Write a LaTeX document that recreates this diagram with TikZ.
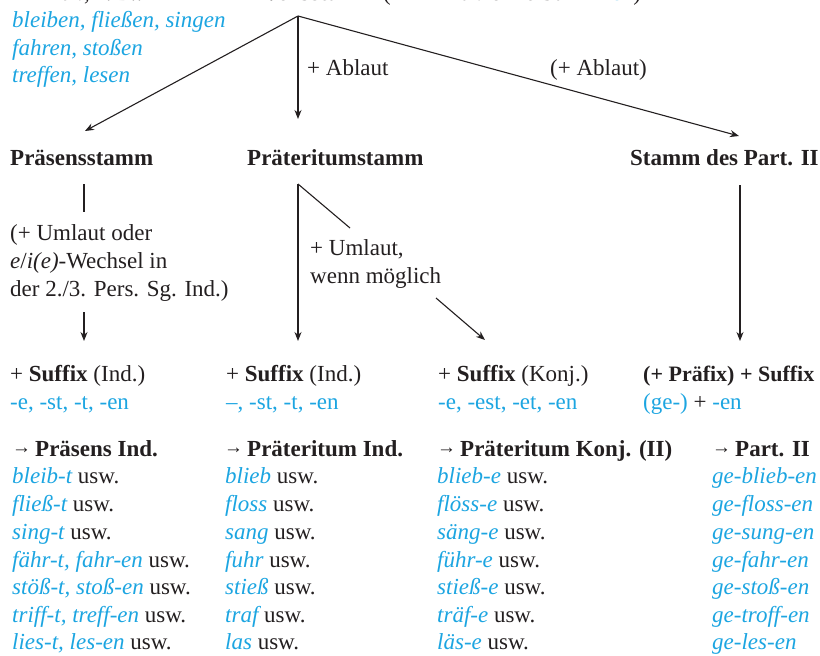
\documentclass[tikz,border=0pt]{standalone}
\usepackage{fontspec}
\setmainfont{Liberation Serif}
\usetikzlibrary{arrows.meta}
\definecolor{ink}{RGB}{35,31,32}
\definecolor{bl}{RGB}{28,165,225}
\newcommand{\bx}[1]{\textcolor{bl}{#1}}
\newcommand{\bi}[1]{\textcolor{bl}{\itshape #1}}
\newcommand{\hb}[1]{\textbf{#1}}
\newcommand{\rarr}{\raisebox{3pt}{\fontsize{19}{19}\selectfont →}\kern4pt}
\begin{document}
\begin{tikzpicture}[x=1pt,y=-1pt,
  every node/.style={inner sep=0pt, anchor=base west, text=ink,
    font=\fontsize{23}{28}\selectfont},
  conn/.style={draw=ink, line width=1.1pt},
  arr/.style={conn, -{Stealth[length=9pt,width=7pt]}}]
\useasboundingbox (0,0) rectangle (820,656);
% top (cut off) line
\node (t1) at (10,0) {Infinitiv, z.\,B.:};
\node (t2) at (263,0) {\hb{Verbstamm} (= Infinitiv ohne Suffix \bx{-en})};
\node (ex1) at (12,27) {\bi{bleiben, fließen, singen}};
\node (ex2) at (12,55) {\bi{fahren, stoßen}};
\node (ex3) at (12,82) {\bi{treffen, lesen}};
% apex and top arrows
\coordinate (apex) at (298,16);
\coordinate (eL) at (85,131);
\coordinate (eM) at (298,119);
\coordinate (eR) at (739,136);
\draw[arr] (apex) -- (eL);
\draw[arr] (apex) -- (eM);
\draw[arr] (apex) -- (eR);
\node (abl1) at (307,75) {+ Ablaut};
\node (abl2) at (550,75) {(+ Ablaut)};
% stems
\node (s1) at (10,165) {\hb{Präsensstamm}};
\node (s2) at (247,165) {\hb{Präteritumstamm}};
\node (s3) at (630,165) {\hb{Stamm des Part. II}};
% Präsens branch
\coordinate (a1) at (84,184);
\coordinate (a2) at (84,212);
\draw[conn] (a1) -- (a2);
\node (u1) at (10,240) {(+ Umlaut oder};
\node (u2) at (10,268) {\textit{e}/\textit{i(e)}-Wechsel in};
\node (u3) at (10,296) {der 2./3. Pers. Sg. Ind.)};
\coordinate (a3) at (84,312);
\coordinate (a4) at (84,341);
\draw[arr] (a3) -- (a4);
% Präteritum branch
\coordinate (b1) at (298,184);
\coordinate (b2) at (298,341);
\coordinate (b3) at (350,228);
\draw[arr] (b1) -- (b2);
\draw[conn] (b1) -- (b3);
\node (um1) at (310,255) {+ Umlaut,};
\node (um2) at (310,283) {wenn möglich};
\coordinate (b4) at (436,298);
\coordinate (b5) at (485,340);
\draw[arr] (b4) -- (b5);
% Part II branch
\coordinate (c1) at (740,185);
\coordinate (c2) at (740,341);
\draw[arr] (c1) -- (c2);
% suffix rows
\node (f1) at (10,381) {+ \hb{Suffix} (Ind.)};
\node (f2) at (226,381) {+ \hb{Suffix} (Ind.)};
\node (f3) at (438,381) {+ \hb{Suffix} (Konj.)};
\node[font=\fontsize{22}{28}\selectfont] (f4) at (643,381) {\hb{(+ Präfix) + Suffix}};
\node (g1) at (10,409) {\bx{-e, -st, -t, -en}};
\node (g2) at (226,409) {\bx{–, -st, -t, -en}};
\node (g3) at (438,409) {\bx{-e, -est, -et, -en}};
\node (g4) at (643,409) {\bx{(ge-)} + \bx{-en}};
% result headings
\node (h1) at (12,456) {\hb{\rarr Präsens Ind.}};
\node (h2) at (224,456) {\hb{\rarr Präteritum Ind.}};
\node (h3) at (437,456) {\hb{\rarr Präteritum Konj. (II)}};
\node (h4) at (712,456) {\hb{\rarr Part. II}};
% lists
\node (p1) at (12,483) {\bi{bleib-t} usw.};
\node (p2) at (12,511) {\bi{fließ-t} usw.};
\node (p3) at (12,539) {\bi{sing-t} usw.};
\node (p4) at (12,567) {\bi{fähr-t, fahr-en} usw.};
\node (p5) at (12,594) {\bi{stöß-t, stoß-en} usw.};
\node (p6) at (12,622) {\bi{triff-t, treff-en} usw.};
\node (p7) at (12,649) {\bi{lies-t, les-en} usw.};
\node (q1) at (225,483) {\bi{blieb} usw.};
\node (q2) at (225,511) {\bi{floss} usw.};
\node (q3) at (225,539) {\bi{sang} usw.};
\node (q4) at (225,567) {\bi{fuhr} usw.};
\node (q5) at (225,594) {\bi{stieß} usw.};
\node (q6) at (225,622) {\bi{traf} usw.};
\node (q7) at (225,649) {\bi{las} usw.};
\node (r1) at (437,483) {\bi{blieb-e} usw.};
\node (r2) at (437,511) {\bi{flöss-e} usw.};
\node (r3) at (437,539) {\bi{säng-e} usw.};
\node (r4) at (437,567) {\bi{führ-e} usw.};
\node (r5) at (437,594) {\bi{stieß-e} usw.};
\node (r6) at (437,622) {\bi{träf-e} usw.};
\node (r7) at (437,649) {\bi{läs-e} usw.};
\node (w1) at (712,483) {\bi{ge-blieb-en}};
\node (w2) at (712,511) {\bi{ge-floss-en}};
\node (w3) at (712,539) {\bi{ge-sung-en}};
\node (w4) at (712,567) {\bi{ge-fahr-en}};
\node (w5) at (712,594) {\bi{ge-stoß-en}};
\node (w6) at (712,622) {\bi{ge-troff-en}};
\node (w7) at (712,649) {\bi{ge-les-en}};
\end{tikzpicture}
\end{document}
